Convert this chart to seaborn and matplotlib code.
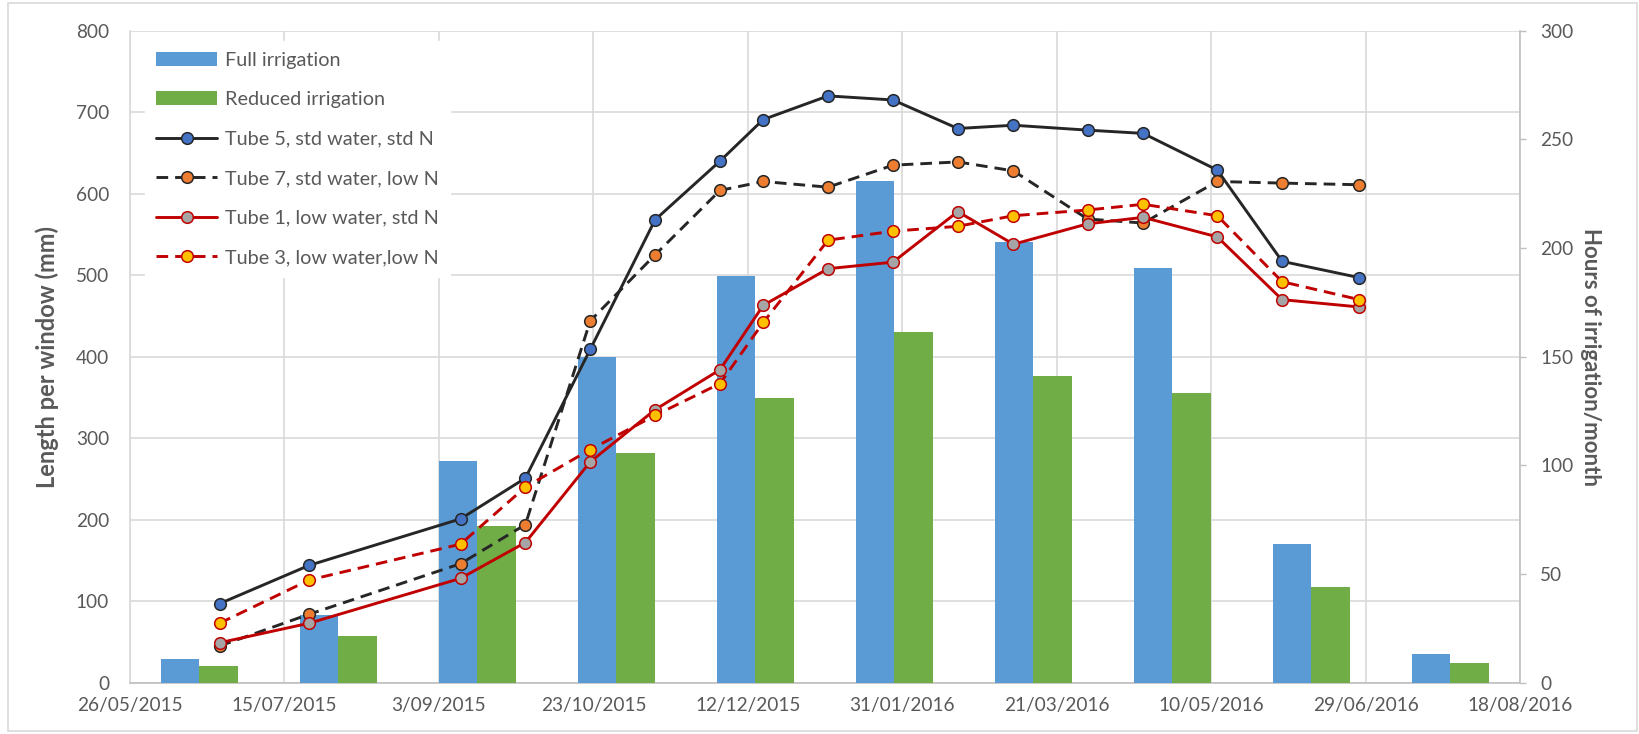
import matplotlib
matplotlib.use("Agg")
import matplotlib.pyplot as plt
import matplotlib.dates as mdates
from matplotlib.ticker import FuncFormatter, MultipleLocator, FixedLocator
from matplotlib.patches import Rectangle
import seaborn as sns
import pandas as pd

# ---------------- data ----------------
months = ["Aug-15", "Sep-15", "Oct-15", "Nov-15", "Dec-15",
          "Jan-16", "Feb-16", "Mar-16", "Apr-16", "May-16"]
full_irrigation = [11, 31, 102, 150, 187, 231, 203, 191, 64, 13]
reduced_irrigation = [7.5, 21.5, 72, 105.5, 131, 161.5, 141, 133.5, 44, 9]

sample_dates = ["2015-06-24", "2015-07-23", "2015-09-10", "2015-10-01",
                "2015-10-22", "2015-11-12", "2015-12-03", "2015-12-17",
                "2016-01-07", "2016-01-28", "2016-02-18", "2016-03-07",
                "2016-03-31", "2016-04-18", "2016-05-12", "2016-06-02",
                "2016-06-27"]
tube5 = [97, 144, 201, 251, 409, 568, 640, 691, 720, 715, 680, 684, 678,
         674, 629, 517, 497]
tube7 = [45, 84, 146, 194, 444, 525, 604, 615, 608, 635, 639, 628, 569,
         564, 615, 613, 611]
tube1 = [49, 73, 128, 172, 271, 335, 384, 463, 508, 516, 578, 538, 563,
         571, 547, 470, 461]
tube3 = [73, 126, 170, 240, 286, 328, 367, 442, 543, 554, 560, 573, 580,
         587, 573, 492, 470]

axis_dates = ["2015-05-26", "2015-07-15", "2015-09-03", "2015-10-23",
              "2015-12-12", "2016-01-31", "2016-03-21", "2016-05-10",
              "2016-06-29", "2016-08-18"]

series_names = ["Tube 5, std water, std N", "Tube 7, std water, low N",
                "Tube 1, low water, std N", "Tube 3, low water,low N"]
bar_names = ["Full irrigation", "Reduced irrigation"]

# ---------------- style ----------------
sns.set_theme(style="white")
plt.rcParams['font.family'] = ['Lato', 'DejaVu Sans']

TXT = "#595959"
GRID = "#d9d9d9"
AXIS = "#bfbfbf"
BLUE = "#5b9bd5"
GREEN = "#70ad47"

W, H = 1640, 734
fig = plt.figure(figsize=(W / 100, H / 100), dpi=100)
fig.patch.set_facecolor("white")

L, R, T, B = 130, 1520, 30.7, 682.7
rect = [L / W, 1 - B / H, (R - L) / W, (B - T) / H]

ax_grid = fig.add_axes(rect, zorder=0)
ax_bar = fig.add_axes(rect, zorder=1)
ax_line = fig.add_axes(rect, zorder=2)
ax_bar.patch.set_visible(False)
ax_line.patch.set_visible(False)

# ---------------- bars (secondary axis, categorical) ----------------
bar_df = pd.DataFrame({
    "month": months * 2,
    "hours": full_irrigation + reduced_irrigation,
    "treatment": [bar_names[0]] * len(months) + [bar_names[1]] * len(months),
})
sns.barplot(data=bar_df, x="month", y="hours", hue="treatment",
            palette=[BLUE, GREEN], saturation=1, width=0.56,
            linewidth=0, ax=ax_bar)
ax_bar.set_xlim(-0.5, len(months) - 0.5)
ax_bar.set_ylim(0, 300)
ax_bar.yaxis.set_major_locator(MultipleLocator(50))
ax_bar.yaxis.tick_right()
ax_bar.yaxis.set_label_position("right")
ax_bar.tick_params(axis="y", which="major", direction="out", length=4.6,
                   width=1, color=AXIS, labelcolor=TXT, labelsize=13.7, pad=10,
                   right=True, left=False)
ax_bar.tick_params(axis="x", bottom=False, labelbottom=False)
ax_bar.set_xlabel("")
ax_bar.set_ylabel("Hours of irrigation/month", rotation=270, fontsize=16,
                  fontweight="bold", color=TXT, labelpad=20)
for s in ["left", "top", "bottom"]:
    ax_bar.spines[s].set_visible(False)
ax_bar.spines["right"].set_color(AXIS)
ax_bar.spines["right"].set_linewidth(1.2)
bar_handles, bar_labels = ax_bar.get_legend_handles_labels()
if ax_bar.get_legend() is not None:
    ax_bar.get_legend().remove()

# ---------------- lines (primary axis, dates) ----------------
dates = pd.to_datetime(sample_dates)
dash = (0, (4, 2.4))
line_specs = [
    (tube5, "#262626", "-", "#4472c4", "#262626"),
    (tube7, "#262626", dash, "#ed7d31", "#262626"),
    (tube1, "#c00000", "-", "#a5a5a5", "#c00000"),
    (tube3, "#c00000", dash, "#ffc000", "#c00000"),
]
for (vals, col, ls, mfc, mec), name in zip(line_specs, series_names):
    sns.lineplot(x=dates, y=vals, ax=ax_line, color=col, linestyle=ls,
                 linewidth=2.1, marker="o", markersize=8.4,
                 markerfacecolor=mfc, markeredgecolor=mec,
                 markeredgewidth=1.1, label=name)

# ---------------- shared date / length scales ----------------
tick_dates = pd.to_datetime(axis_dates)
xmin, xmax = tick_dates[0], tick_dates[-1]
for a in (ax_grid, ax_line):
    a.set_xlim(xmin, xmax)
    a.set_ylim(0, 800)

def fmt_date(x, pos=None):
    d = mdates.num2date(x)
    return f"{d.day}/{d.month:02d}/{d.year}"

ax_grid.xaxis.set_major_locator(FixedLocator(mdates.date2num(tick_dates)))
ax_grid.xaxis.set_major_formatter(FuncFormatter(fmt_date))
ax_grid.yaxis.set_major_locator(MultipleLocator(100))
ax_grid.grid(True, color=GRID, linewidth=1.2)
ax_grid.tick_params(axis="both", length=0, labelcolor=TXT, labelsize=13.7)
ax_grid.tick_params(axis="y", pad=15)
ax_grid.tick_params(axis="x", pad=10)
ax_grid.set_ylabel("Length per window (mm)", fontsize=17, fontweight="bold",
                   color=TXT, labelpad=12)
for s in ["top", "right"]:
    ax_grid.spines[s].set_visible(False)
ax_grid.spines["left"].set_color(GRID)
ax_grid.spines["left"].set_linewidth(1.2)
ax_grid.spines["bottom"].set_color(AXIS)
ax_grid.spines["bottom"].set_linewidth(1.2)

ax_line.set_xlabel("")
ax_line.set_ylabel("")
ax_line.tick_params(left=False, bottom=False, labelleft=False,
                    labelbottom=False)
for s in ax_line.spines.values():
    s.set_visible(False)

# ---------------- legend ----------------
line_handles, line_labels = ax_line.get_legend_handles_labels()
if ax_line.get_legend() is not None:
    ax_line.get_legend().remove()
leg = ax_line.legend(bar_handles + line_handles, bar_labels + line_labels,
                     loc="upper left",
                     bbox_to_anchor=((145 - L) / (R - L), (B - 41) / (B - T)),
                     borderaxespad=0, frameon=True, fancybox=False,
                     framealpha=1, facecolor="white", edgecolor="white",
                     fontsize=14.3, handlelength=3.1, handletextpad=0.4,
                     labelspacing=1.13, borderpad=0.55, numpoints=1)
for t in leg.get_texts():
    t.set_color(TXT)

# chart border
fig.patches.append(Rectangle((8 / W, 3 / H), (1637 - 8) / W, (731 - 3) / H,
                             transform=fig.transFigure, fill=False,
                             edgecolor=GRID, linewidth=1.2))

fig.savefig("out.png", dpi=100, facecolor="white")
